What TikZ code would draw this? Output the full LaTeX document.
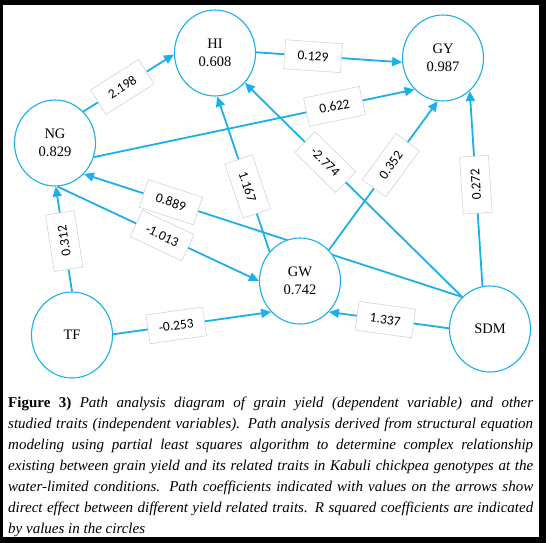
\documentclass[tikz,border=0pt]{standalone}
\usepackage{fontspec}
\setmainfont{Liberation Serif}
\newfontfamily\coeffont{Carlito}
\usetikzlibrary{arrows.meta,shapes.geometric}
\definecolor{pathblue}{RGB}{27,176,232}
\definecolor{boxgray}{RGB}{205,205,205}
\pgfdeclarelayer{bg}
\pgfsetlayers{bg,main}

\begin{document}
\begin{tikzpicture}[x=1pt,y=-1pt,
    trait/.style={draw=pathblue,line width=1.1pt,fill=white,ellipse,
                  minimum width=81pt,minimum height=86pt,inner sep=0pt,
                  align=center,font=\fontsize{14.5}{18}\selectfont},
    edge/.style={-{Triangle[length=10pt,width=9pt]},line width=1.8pt,draw=pathblue},
    coef/.style={draw=boxgray,line width=0.5pt,fill=white,sloped,
                 minimum width=57pt,minimum height=29pt,inner sep=2pt,
                 font=\coeffont\fontsize{13.5}{16}\selectfont}
]
  \node[trait] (HI) at (215,53) {HI\\0.608};
  \node[trait] (GY) at (443,58) {GY\\0.987};
  \node[trait] (NG) at (55,143) {NG\\0.829};
  \node[trait] (GW) at (300,281) {GW\\0.742};
  \node[trait] (TF) at (72,335) {TF};
  \node[trait] (SDM) at (490,329) {SDM};

  \node[anchor=north west,inner sep=0pt,text width=525pt,align=justify,
        font=\fontsize{15}{21}\selectfont\itshape] (caption) at (8,397)
    {\textbf{\upshape Figure 3)} Path analysis diagram of grain yield (dependent variable) and other\linebreak
     studied traits (independent variables). Path analysis derived from structural equation\linebreak
     modeling using partial least squares algorithm to determine complex relationship\linebreak
     existing between grain yield and its related traits in Kabuli chickpea genotypes at the\linebreak
     water-limited conditions. Path coefficients indicated with values on the arrows show\linebreak
     direct effect between different yield related traits. R squared coefficients are indicated\linebreak
     by values in the circles};

  \begin{pgfonlayer}{bg}
  \fill[black] (0,0) rectangle (546,543);
  \fill[white] (3,5) rectangle (539,537);
  \draw[edge] (NG.48) -- node[coef,pos=0.43] {2.198} (HI.182);
  \draw[edge] (HI.1) -- node[coef,pos=0.39] {0.129} (GY.186);
  \draw[edge] (NG.-20) -- node[coef,pos=0.75] {0.622} (GY.-132);
  \draw[edge] (GW.136) -- node[coef,pos=0.42] {1.167} (HI.-87);
  \draw[edge] (SDM.131) -- node[coef,pos=0.63] {-2.774} (HI.-45);
  \draw[edge] (GW.47) -- node[coef,pos=0.57] {0.352} (GY.-97);
  \draw[edge] (SDM.100) -- node[coef,allow upside down,pos=0.52] {0.272} (GY.-51);
  \draw[edge] (SDM.131) -- node[coef,pos=0.77] {0.889} (NG.-47);
  \draw[edge] (NG.-87) -- node[coef,pos=0.52] {-1.013} (GW.180);
  \draw[edge] (TF.90) -- node[coef,allow upside down,pos=0.48] {0.312} (NG.-89);
  \draw[edge] (TF.1) -- node[coef,pos=0.40] {-0.253} (GW.-133);
  \draw[edge] (SDM.179) -- node[coef,pos=0.53] {1.337} (GW.-47);
  \end{pgfonlayer}
\end{tikzpicture}
\end{document}
